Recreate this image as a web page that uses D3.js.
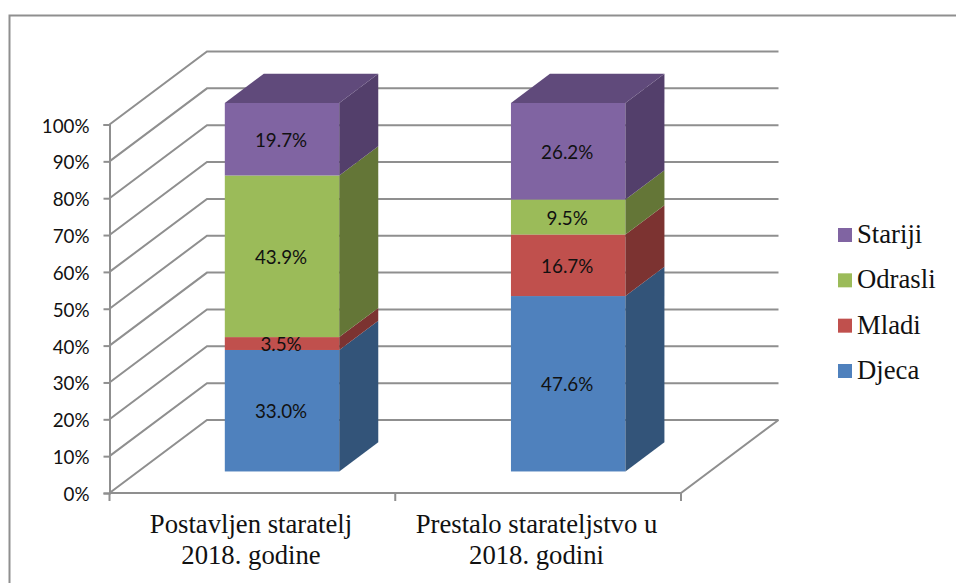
<!DOCTYPE html>
<html><head><meta charset="utf-8">
<script src="https://cdn.jsdelivr.net/npm/d3@7"></script>
<style>html,body{margin:0;padding:0;background:#fff;overflow:hidden}svg{display:block}</style>
</head><body><svg id="c" width="956" height="583"></svg>
<script>
const categories = [["Postavljen staratelj","2018. godine"],["Prestalo starateljstvo u","2018. godini"]];
const seriesNames = ["Djeca","Mladi","Odrasli","Stariji"];
const djeca = [33.0,47.6];
const mladi = [3.5,16.7];
const odrasli = [43.9,9.5];
const stariji = [19.7,26.2];
const yTicks = [0,10,20,30,40,50,60,70,80,90,100];
const frontColors = ["#4f81bd","#c0504d","#9bbb59","#8064a2"];
const sideColors = ["#335479","#7c3331","#647637","#533f6b"];
const topColors = ["#3b6292","#943f3c","#76903f","#604a7b"];

const svg = d3.select("#c");
const LAT = "Lato, 'Open Sans', sans-serif", SERIF = "'Liberation Serif', serif";
const grid = "#8f8f8f";

// chart frame
svg.append("path").attr("d","M9.5,583V15.5H956").attr("fill","none").attr("stroke",grid).attr("stroke-width",2);

const y = d3.scaleLinear().domain([0,100]).range([493,124.5]);
const x = d3.scaleBand().domain([0,1]).range([110.2,682.5]).paddingInner(0.6).paddingOuter(0.3);
// depth projection: 0 = front of floor, 1 = back wall
const dx = d3.scaleLinear().domain([0,1]).range([0,97.5]);
const dy = d3.scaleLinear().domain([0,1]).range([0,-73]);
const z0 = 0.295, z1 = 0.695;
const xStep = 285.75;
const x0 = 109.5;

// side wall and back wall gridlines
const g = svg.append("g").attr("fill","none").attr("stroke",grid).attr("stroke-width",2);
yTicks.forEach(t=>{
  g.append("path").attr("d",d3.line()([[x0,y(t)],[x0+dx(1),y(t)+dy(1)],[681+dx(1),y(t)+dy(1)]]));
});
g.append("path").attr("d",d3.line()([[x0,y(0)],[681,y(0)],[681+dx(1),y(0)+dy(1)]]));

// value axis
const ya = svg.append("g").attr("transform",`translate(${x0},0)`)
  .call(d3.axisLeft(y).tickValues(yTicks).tickSize(6).tickPadding(14).tickFormat(d=>d+"%"));
ya.selectAll("line,path").attr("stroke",grid).attr("stroke-width",2);
ya.selectAll("text").attr("font-family",LAT).attr("font-size",18.8).attr("fill","#111").attr("dy","0.4em");

// category axis ticks
const tickX = [0,1,2].map(i=>x0+i*xStep);
svg.append("g").selectAll("line").data(tickX).join("line")
  .attr("x1",d=>d).attr("x2",d=>d).attr("y1",493).attr("y2",501)
  .attr("stroke",grid).attr("stroke-width",2);

// bars
const series = [djeca,mladi,odrasli,stariji];
const bars = svg.append("g");
[0,1].forEach(c=>{
  const total = d3.sum(series,s=>s[c]);
  let acc = 0;
  const bx0 = x(c)+dx(z0), bx1 = bx0+x.bandwidth();
  const ox = dx(z1)-dx(z0), oy = dy(z1)-dy(z0);
  const fy = v=>y(v/total*100)+dy(z0);
  series.forEach((s,i)=>{
    const yb = fy(acc), yt = fy(acc+s[c]);
    bars.append("rect").attr("x",bx0).attr("y",yt).attr("width",bx1-bx0).attr("height",yb-yt).attr("fill",frontColors[i]);
    bars.append("path").attr("d",d3.line()([[bx1,yb],[bx1+ox,yb+oy],[bx1+ox,yt+oy],[bx1,yt]])+"Z").attr("fill",sideColors[i]);
    if(i===3) bars.append("path").attr("d",d3.line()([[bx0,yt],[bx0+ox,yt+oy],[bx1+ox,yt+oy],[bx1,yt]])+"Z").attr("fill",topColors[i]);
    acc += s[c];
  });
  acc = 0;
  series.forEach((s,i)=>{
    const yb = fy(acc), yt = fy(acc+s[c]);
    svg.append("text").attr("x",(bx0+bx1)/2-1).attr("y",(yb+yt)/2).attr("dy","0.4em")
      .attr("text-anchor","middle").attr("font-family",LAT).attr("font-size",18.8).attr("fill","#111")
      .text(s[c].toFixed(1)+"%");
    acc += s[c];
  });
});

// category labels
const catCenter = [251,536.5];
categories.forEach((lines,c)=>{
  lines.forEach((l,j)=>{
    svg.append("text").attr("x",catCenter[c]).attr("y",533+j*31).attr("text-anchor","middle")
      .attr("font-family",SERIF).attr("font-size",26.7).attr("fill","#111").text(l);
  });
});

// legend
const lg = svg.append("g");
const legendY = d3.scalePoint().domain([3,2,1,0]).range([235,371]);
[3,2,1,0].forEach(i=>{
  lg.append("rect").attr("x",838).attr("y",legendY(i)-7).attr("width",14).attr("height",14).attr("fill",frontColors[i]);
  lg.append("text").attr("x",857).attr("y",legendY(i)+8).attr("font-family",SERIF).attr("font-size",26.7).attr("fill","#111").text(seriesNames[i]);
});
</script></body></html>
